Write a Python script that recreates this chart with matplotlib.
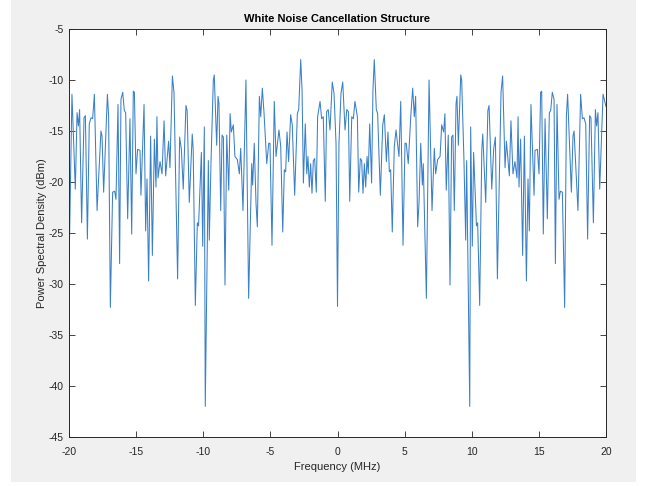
import matplotlib
matplotlib.use("Agg")
from matplotlib import pyplot as plt
from matplotlib.patches import Rectangle

# PSD (MHz, dBm), left half then right half
freqLeft = [-20.00, -19.78, -19.53, -19.40, -19.30, -19.21, -19.06, -18.88, -18.78, -18.63,
            -18.49, -18.36, -18.24, -18.11, -17.91, -17.62, -17.54, -17.42, -17.14, -17.05,
            -16.92, -16.75, -16.60, -16.50, -16.35, -16.23, -16.13, -16.00, -15.88, -15.78,
            -15.63, -15.46, -15.33, -15.21, -15.13, -15.01, -14.89, -14.71, -14.64, -14.41,
            -14.29, -14.19, -14.07, -13.92, -13.79, -13.64, -13.52, -13.45, -13.37, -13.22,
            -13.07, -12.92, -12.80, -12.58, -12.48, -12.30, -12.18, -11.91, -11.76, -11.63,
            -11.49, -11.29, -11.20, -11.04, -10.82, -10.75, -10.59, -10.44, -10.35, -10.14,
            -10.04, -9.92, -9.85, -9.62, -9.55, -9.42, -9.25, -9.18, -9.00, -8.90,
            -8.83, -8.70, -8.60, -8.50, -8.38, -8.25, -8.10, -8.00, -7.91, -7.76,
            -7.64, -7.46, -7.31, -7.21, -7.04, -6.82, -6.62, -6.39, -6.32, -6.20,
            -6.07, -5.97, -5.82, -5.72, -5.60, -5.47, -5.27, -5.12, -5.03, -4.88,
            -4.71, -4.58, -4.36, -4.23, -4.08, -3.96, -3.86, -3.76, -3.64, -3.49,
            -3.37, -3.19, -2.99, -2.89, -2.74, -2.64, -2.54, -2.40, -2.29, -2.20,
            -2.10, -2.00, -1.90, -1.80, -1.70, -1.58, -1.48, -1.30, -1.18, -1.06,
            -0.91, -0.81, -0.69, -0.56, -0.39, -0.26, -0.11, 0.00]
psdLeft = [-28.7, -11.4, -20.7, -13.2, -14.5, -12.9, -24.0, -13.7, -13.5, -25.6,
           -14.3, -13.7, -13.8, -11.4, -22.8, -15.0, -15.5, -21.0, -11.4, -13.5,
           -32.3, -21.0, -20.9, -21.7, -12.4, -28.0, -11.9, -11.2, -13.0, -13.2,
           -23.6, -13.8, -25.1, -11.1, -11.2, -19.2, -16.8, -16.9, -21.3, -12.4,
           -24.8, -19.7, -29.7, -15.5, -27.2, -15.8, -20.5, -13.6, -19.6, -18.0,
           -19.2, -14.0, -19.4, -16.0, -18.6, -9.6, -11.2, -29.5, -15.6, -16.8,
           -20.7, -12.5, -13.0, -22.0, -15.3, -16.8, -32.1, -24.0, -24.3, -17.1,
           -26.3, -14.6, -42.0, -17.9, -25.7, -17.9, -10.0, -9.5, -16.4, -11.6,
           -12.3, -22.8, -15.4, -15.6, -30.1, -15.4, -20.8, -13.3, -15.1, -14.4,
           -17.5, -17.8, -19.2, -16.7, -22.8, -10.0, -31.4, -18.2, -20.3, -16.2,
           -22.1, -24.4, -11.6, -13.6, -10.8, -13.3, -18.2, -16.2, -16.2, -26.2,
           -12.1, -17.5, -14.9, -16.5, -24.9, -18.8, -19.0, -15.1, -18.0, -13.4,
           -14.4, -21.3, -13.3, -12.9, -8.0, -11.0, -20.1, -14.3, -19.2, -17.5,
           -20.5, -18.2, -21.1, -17.9, -17.7, -21.0, -13.6, -12.1, -13.8, -13.6,
           -21.9, -13.1, -12.9, -14.9, -10.2, -11.3, -16.2, -32.2]

freqRight = [0.11, 0.26, 0.39, 0.56, 0.69, 0.81, 0.91, 1.06, 1.18, 1.30,
             1.48, 1.58, 1.70, 1.80, 1.90, 2.00, 2.10, 2.20, 2.29, 2.40,
             2.54, 2.64, 2.74, 2.89, 2.99, 3.19, 3.37, 3.49, 3.64, 3.76,
             3.86, 3.96, 4.08, 4.23, 4.36, 4.58, 4.71, 4.88, 5.03, 5.12,
             5.27, 5.47, 5.60, 5.72, 5.82, 5.97, 6.07, 6.20, 6.32, 6.39,
             6.62, 6.82, 7.04, 7.21, 7.31, 7.46, 7.64, 7.76, 7.91, 8.00,
             8.10, 8.25, 8.38, 8.50, 8.60, 8.70, 8.83, 8.90, 9.00, 9.18,
             9.25, 9.42, 9.55, 9.62, 9.85, 9.92, 10.04, 10.14, 10.35, 10.44,
             10.59, 10.75, 10.82, 11.04, 11.20, 11.29, 11.49, 11.63, 11.76, 11.91,
             12.18, 12.30, 12.48, 12.58, 12.80, 12.92, 13.07, 13.22, 13.37, 13.45,
             13.52, 13.64, 13.79, 13.92, 14.07, 14.19, 14.29, 14.41, 14.64, 14.71,
             14.89, 15.01, 15.13, 15.21, 15.33, 15.46, 15.63, 15.78, 15.88, 16.00,
             16.13, 16.23, 16.35, 16.50, 16.60, 16.75, 16.92, 17.05, 17.14, 17.42,
             17.54, 17.62, 17.91, 18.11, 18.24, 18.36, 18.49, 18.63, 18.78, 18.88,
             19.06, 19.21, 19.30, 19.40, 19.53, 19.78, 20.00]
psdRight = [-16.2, -11.3, -10.2, -14.9, -12.9, -13.1, -21.9, -13.6, -13.8, -12.1,
            -13.6, -21.0, -17.7, -17.9, -21.1, -18.2, -20.5, -17.5, -19.2, -14.3,
            -20.1, -11.0, -8.0, -12.9, -13.3, -21.3, -14.4, -13.4, -18.0, -15.1,
            -19.0, -18.8, -24.9, -16.5, -14.9, -17.5, -12.1, -26.2, -16.2, -16.2,
            -18.2, -13.3, -10.8, -13.6, -11.6, -24.4, -22.1, -16.2, -20.3, -18.2,
            -31.4, -10.0, -22.8, -16.7, -19.2, -17.8, -17.5, -14.4, -15.1, -13.3,
            -20.8, -15.4, -30.1, -15.6, -15.4, -22.8, -12.3, -11.6, -16.4, -9.5,
            -10.0, -17.9, -25.7, -17.9, -42.0, -14.6, -26.3, -17.1, -24.3, -24.0,
            -32.1, -16.8, -15.3, -22.0, -13.0, -12.5, -20.7, -16.8, -15.6, -29.5,
            -11.2, -9.6, -18.6, -16.0, -19.4, -14.0, -19.2, -18.0, -19.6, -13.6,
            -20.5, -15.8, -27.2, -15.5, -29.7, -19.7, -24.8, -12.4, -21.3, -16.9,
            -16.8, -19.2, -11.2, -11.1, -25.1, -13.8, -23.6, -13.2, -13.0, -11.2,
            -11.9, -28.0, -12.4, -21.7, -20.9, -21.0, -32.3, -13.5, -11.4, -21.0,
            -15.5, -15.0, -22.8, -11.4, -13.8, -13.7, -14.3, -25.6, -13.5, -13.7,
            -24.0, -12.9, -14.5, -13.2, -20.7, -11.4, -12.6]

xTicks = [-20, -15, -10, -5, 0, 5, 10, 15, 20]
yTicks = [-45, -40, -35, -30, -25, -20, -15, -10, -5]

plt.rcParams['font.family'] = ['Liberation Sans', 'DejaVu Sans']
plt.rcParams['axes.unicode_minus'] = False     # matlab labels use a plain hyphen

fig = plt.figure(figsize=(6.45, 4.86), dpi=100, facecolor='white')
# grey window background like the matlab figure
fig.patches.append(Rectangle((11/645, 4/486), 625/645, 482/486, transform=fig.transFigure,
                             facecolor='#f0f0f0', edgecolor='none', zorder=-1))
ax = fig.add_axes([69/645, 49/486, 537/645, 408/486])
ax.set_facecolor('white')

ax.plot(freqLeft + freqRight, psdLeft + psdRight, color='#3a80c8', linewidth=0.75)

ax.set_xlim(-20, 20)
ax.set_ylim(-45, -5)
ax.set_xticks(xTicks)
ax.set_yticks(yTicks)
ax.tick_params(direction='in', length=4, width=0.6, top=True, right=True,
               labelsize=7.5, colors='#262626')
ax.tick_params(axis='x', pad=7)
ax.tick_params(axis='y', pad=4)
for side in ax.spines.values():
    side.set_color('#262626')
    side.set_linewidth(0.7)

ax.set_title("White Noise Cancellation Structure", fontsize=8, fontweight='bold', pad=5)
ax.set_xlabel("Frequency (MHz)", fontsize=8, color='#262626', labelpad=4)
ax.set_ylabel("Power Spectral Density (dBm)", fontsize=8, color='#262626', labelpad=1)

fig.savefig("out.png", dpi=100, facecolor=fig.get_facecolor())
